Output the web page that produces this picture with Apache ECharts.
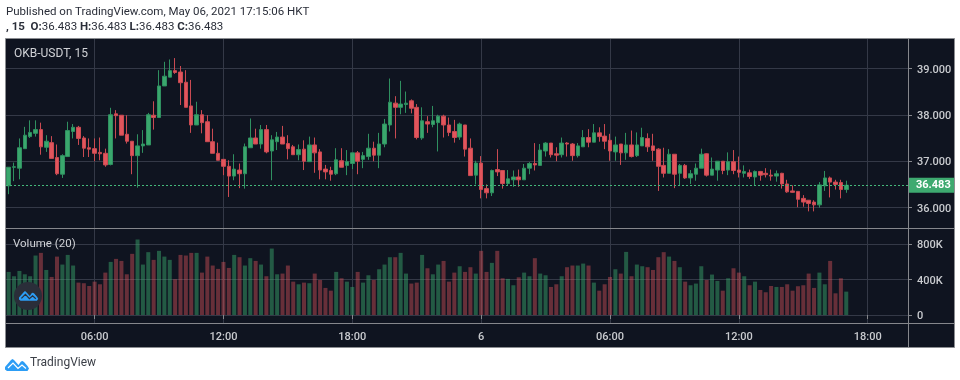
<!DOCTYPE html>
<html>
<head>
<meta charset="utf-8">
<title>OKB-USDT</title>
<script src="https://cdn.jsdelivr.net/npm/echarts@6/dist/echarts.min.js"></script>
<style>
  html, body { margin: 0; padding: 0; background: #fff; }
  #main { width: 960px; height: 380px; }
</style>
</head>
<body>
<div id="main"></div>
<script>
// 15 minute bars. first bar is 02:00 on the 5th
var open = [
  36.47, 36.87, 36.85, 37.27, 37.53, 37.6, 37.68, 37.3, 37.4, 37.08,
  36.72, 37.1, 37.64, 37.73, 37.5, 37.29, 37.27, 37.19, 37.17, 36.93,
  38.02, 37.99, 37.58, 37.43, 37.12, 37.33, 37.35, 37.99, 37.94, 38.62,
  38.81, 38.95, 38.92, 38.7, 38.19, 37.78, 38.0, 37.85, 37.42, 37.17,
  37.04, 36.89, 36.68, 36.81, 36.73, 37.29, 37.5, 37.37, 37.68, 37.22,
  37.42, 37.52, 37.38, 37.31, 37.14, 37.26, 36.99, 37.35, 37.2, 36.83,
  36.8, 36.73, 37.01, 36.91, 36.95, 37.18, 37.04, 37.1, 37.28, 37.13,
  37.37, 37.78, 38.25, 38.16, 38.22, 38.3, 38.16, 37.5, 37.85, 37.79,
  37.83, 37.97, 37.78, 37.64, 37.52, 37.78, 37.28, 36.7, 36.96, 36.41,
  36.32, 36.82, 36.8, 36.52, 36.6, 36.66, 36.6, 36.85, 36.95, 36.91,
  37.22, 37.39, 37.16, 37.14, 37.39, 37.37, 37.12, 37.31, 37.51, 37.41,
  37.61, 37.54, 37.45, 37.2, 37.37, 37.18, 37.35, 37.12, 37.33, 37.49,
  37.33, 37.26, 36.91, 36.74, 37.15, 36.74, 36.91, 36.64, 36.72, 36.85,
  37.16, 36.7, 36.81, 37.0, 36.81, 36.99, 36.81, 36.74, 36.75, 36.66,
  36.78, 36.74, 36.7, 36.68, 36.74, 36.51, 36.36, 36.35, 36.2, 36.16,
  36.12, 36.06, 36.47, 36.64, 36.55, 36.54, 36.39
];
var close = [
  36.87, 36.88, 37.29, 37.56, 37.62, 37.68, 37.31, 37.43, 37.06, 36.73,
  37.12, 37.66, 37.73, 37.49, 37.28, 37.26, 37.17, 37.16, 36.92, 38.0,
  37.98, 37.56, 37.43, 37.12, 37.33, 37.37, 38.0, 37.94, 38.62, 38.83,
  38.95, 38.91, 38.69, 38.16, 37.78, 38.0, 37.83, 37.42, 37.17, 37.02,
  36.89, 36.68, 36.83, 36.73, 37.31, 37.5, 37.37, 37.68, 37.2, 37.46,
  37.52, 37.37, 37.27, 37.14, 37.25, 37.0, 37.35, 37.18, 36.81, 36.77,
  36.72, 37.03, 36.87, 36.99, 37.18, 37.0, 37.12, 37.28, 37.13, 37.37,
  37.8, 38.27, 38.16, 38.23, 38.25, 38.14, 37.51, 37.87, 37.8, 37.87,
  37.97, 37.78, 37.62, 37.51, 37.8, 37.26, 36.69, 36.96, 36.39, 36.32,
  36.8, 36.77, 36.52, 36.62, 36.66, 36.6, 36.85, 36.95, 36.92, 37.24,
  37.39, 37.14, 37.13, 37.39, 37.37, 37.12, 37.33, 37.51, 37.41, 37.61,
  37.53, 37.43, 37.22, 37.35, 37.18, 37.35, 37.1, 37.35, 37.51, 37.31,
  37.23, 36.89, 36.74, 37.15, 36.72, 36.91, 36.64, 36.73, 36.85, 37.15,
  36.7, 36.83, 37.0, 36.8, 36.99, 36.8, 36.76, 36.78, 36.67, 36.78,
  36.7, 36.71, 36.68, 36.73, 36.51, 36.34, 36.33, 36.18, 36.12, 36.09,
  36.06, 36.49, 36.64, 36.55, 36.5, 36.39, 36.483
];
var low = [
  36.29, 36.57, 36.61, 37.27, 37.5, 37.53, 37.14, 37.2, 37.06, 36.7,
  36.64, 37.1, 37.49, 37.35, 37.09, 37.09, 37.0, 37.02, 36.88, 36.91,
  37.49, 37.56, 37.38, 36.72, 36.43, 37.18, 37.35, 37.68, 37.94, 38.62,
  38.81, 38.88, 38.21, 38.16, 37.61, 37.78, 37.6, 37.42, 37.17, 37.02,
  36.7, 36.23, 36.59, 36.42, 36.41, 37.29, 37.37, 37.27, 37.17, 36.59,
  37.24, 37.37, 37.04, 37.14, 37.02, 36.81, 36.99, 36.75, 36.61, 36.61,
  36.58, 36.7, 36.87, 36.7, 36.83, 36.72, 36.85, 37.03, 37.0, 36.85,
  37.3, 37.64, 37.49, 38.01, 38.04, 38.03, 37.47, 37.46, 37.61, 37.73,
  37.21, 37.51, 37.54, 37.4, 37.46, 37.1, 36.69, 36.5, 36.2, 36.2,
  36.25, 36.68, 36.41, 36.47, 36.45, 36.45, 36.6, 36.72, 36.8, 36.91,
  37.1, 37.08, 37.0, 37.08, 37.1, 37.01, 37.08, 37.31, 37.3, 37.41,
  37.42, 37.26, 37.01, 37.01, 36.92, 37.03, 37.08, 37.09, 37.33, 37.2,
  37.01, 36.36, 36.65, 36.74, 36.42, 36.48, 36.62, 36.51, 36.58, 36.85,
  36.67, 36.7, 36.58, 36.72, 36.7, 36.72, 36.65, 36.65, 36.62, 36.48,
  36.58, 36.65, 36.58, 36.56, 36.41, 36.32, 36.32, 36.01, 36.02, 35.92,
  35.92, 36.0, 36.36, 36.22, 36.39, 36.2, 36.32
];
var high = [
  36.87, 36.97, 37.49, 37.74, 37.88, 37.88, 37.83, 37.56, 37.54, 37.36,
  37.15, 37.85, 37.8, 37.76, 37.54, 37.49, 37.49, 37.51, 37.27, 38.15,
  38.1, 37.99, 37.99, 37.43, 37.58, 37.67, 38.04, 38.29, 38.96, 39.14,
  39.19, 39.22, 39.05, 38.96, 38.75, 38.28, 38.1, 37.99, 37.7, 37.4,
  37.04, 37.02, 37.15, 36.95, 37.38, 37.92, 37.7, 37.78, 37.78, 37.56,
  37.63, 37.76, 37.56, 37.35, 37.36, 37.45, 37.53, 37.51, 37.26, 36.92,
  36.88, 37.28, 37.28, 37.24, 37.18, 37.22, 37.2, 37.59, 37.42, 37.61,
  37.91, 38.78, 38.4, 38.73, 38.5, 38.33, 38.23, 38.16, 37.97, 38.19,
  38.0, 38.0, 37.94, 37.89, 37.83, 37.78, 37.49, 37.01, 37.11, 36.5,
  36.82, 37.26, 36.81, 36.81, 36.8, 36.82, 36.94, 36.98, 37.39, 37.37,
  37.41, 37.39, 37.3, 37.51, 37.41, 37.39, 37.39, 37.67, 37.69, 37.8,
  37.73, 37.8, 37.59, 37.53, 37.37, 37.61, 37.66, 37.62, 37.72, 37.6,
  37.59, 37.28, 37.29, 37.26, 37.15, 36.94, 36.94, 36.81, 36.95, 37.27,
  37.17, 37.08, 37.0, 37.0, 37.19, 37.24, 37.1, 36.91, 36.82, 36.8,
  36.79, 36.85, 36.82, 36.8, 36.75, 36.6, 36.48, 36.35, 36.27, 36.16,
  36.16, 36.55, 36.79, 36.67, 36.6, 36.6, 36.58
];
var volume = [
  487, 438, 498, 460, 438, 672, 702, 509, 430, 660,
  570, 679, 559, 366, 359, 328, 377, 347, 479, 600,
  634, 611, 460, 691, 853, 570, 710, 623, 725, 660,
  623, 404, 679, 672, 702, 702, 479, 660, 559, 521,
  600, 532, 679, 653, 559, 642, 611, 570, 438, 751,
  460, 468, 559, 377, 347, 366, 359, 468, 396, 306,
  275, 487, 415, 377, 317, 487, 366, 449, 396, 517,
  570, 653, 653, 702, 468, 355, 366, 679, 528, 460,
  570, 611, 377, 479, 551, 487, 540, 468, 725, 487,
  589, 725, 415, 408, 336, 426, 479, 438, 642, 468,
  449, 317, 347, 438, 540, 559, 559, 581, 559, 366,
  275, 347, 430, 517, 468, 713, 438, 570, 551, 540,
  509, 653, 710, 660, 611, 540, 377, 336, 355, 551,
  396, 457, 385, 275, 415, 528, 479, 438, 336, 377,
  283, 257, 328, 317, 317, 347, 275, 325, 336, 468,
  306, 479, 347, 611, 245, 415, 264
];
var priceTicks = [36, 37, 38, 39];
var volumeTicks = [0, 400000, 800000];

var upColor = '#3aa76d';
var downColor = '#e2555c';

// 168 slots, 11 of them stay empty on the right
var times = [];
for (var s = 0; s < 168; s++) {
  var mins = 120 + s * 15;
  var h = Math.floor(mins / 60) % 24;
  var m = mins % 60;
  times.push((h < 10 ? '0' : '') + h + ':' + (m < 10 ? '0' : '') + m);
}

var candles = open.map(function (o, i) {
  return [o, close[i], low[i], high[i]];
});
var volumeBars = volume.map(function (v, i) {
  return {
    value: v * 1000,
    itemStyle: { color: close[i] >= open[i] ? 'rgba(58,167,109,0.48)' : 'rgba(226,85,92,0.42)' }
  };
});
var lastClose = close[close.length - 1];

function onTimeMark (idx) {
  return idx % 24 === 16;
}
function timeLabel (val) {
  return val === '00:00' ? '6' : val;
}

var gridColor = '#343947';
var labelColor = '#c9cbcf';
var lineColor = '#85878c';
var labelFont = 'Roboto';
var textFont = 'Roboto';

// logo outline on a 24x14 box
function scalePts (pts, x, y, k) {
  return pts.map(function (p) { return [x + p[0] * k, y + p[1] * k]; });
}
var cloudPts = [[0, 10], [6, 3], [7.5, 2], [9, 3], [13.5, 8], [16, 4.5], [17.5, 4], [19, 5], [22.5, 9], [24, 11.5], [22.5, 14], [2, 14], [0, 12.5]];
var zigPts = [[3, 11], [8, 6], [13, 11.5], [17, 8], [21, 11.5]];

var chart = echarts.init(document.getElementById('main'));
chart.setOption({
  backgroundColor: '#fff',
  animation: false,
  graphic: [
    { type: 'rect', z: -10, silent: true, shape: { x: 5.5, y: 38.5, width: 949, height: 309 }, style: { fill: '#0f1420', stroke: '#8b8d91', lineWidth: 1 } },
    { type: 'line', z: 10, shape: { x1: 6, y1: 228.5, x2: 954, y2: 228.5 }, style: { stroke: lineColor, lineWidth: 1 } },
    { type: 'line', z: 10, shape: { x1: 6, y1: 323.5, x2: 954, y2: 323.5 }, style: { stroke: lineColor, lineWidth: 1 } },
    { type: 'line', z: 10, shape: { x1: 908.5, y1: 39, x2: 908.5, y2: 347 }, style: { stroke: lineColor, lineWidth: 1 } },
    { type: 'text', z: 10, x: 6, y: 6, style: { text: 'Published on TradingView.com, May 06, 2021 17:15:06 HKT', font: '11.5px ' + textFont, fill: '#2a2e39' } },
    { type: 'text', z: 10, x: 6, y: 21, style: {
      text: '{b|, 15  O:}36.483 {b|H:}36.483 {b|L:}36.483 {b|C:}36.483',
      font: '11.5px ' + textFont,
      fill: '#2a2e39',
      rich: { b: { font: 'bold 11.5px ' + textFont, fill: '#2a2e39' } }
    } },
    { type: 'text', z: 10, x: 14, y: 48, style: { text: 'OKB-USDT, 15', font: '12px ' + textFont, fill: '#d0d2d6' } },
    { type: 'text', z: 10, x: 13, y: 238, style: { text: 'Volume (20)', font: '11.5px ' + textFont, fill: '#d0d2d6' } },
    { type: 'circle', z: 10, shape: { cx: 28, cy: 296, r: 14 }, style: { fill: '#2a2e39' } },
    { type: 'polygon', z: 11, shape: { points: scalePts(cloudPts, 19, 289.5, 0.8) }, style: { fill: '#2c9df5' } },
    { type: 'polyline', z: 12, shape: { points: scalePts(zigPts, 19, 289.5, 0.8) }, style: { fill: 'none', stroke: '#2a2e39', lineWidth: 1.2 } },
    { type: 'polygon', z: 10, shape: { points: scalePts(cloudPts, 5, 357, 1) }, style: { fill: '#2c9df5' } },
    { type: 'polyline', z: 11, shape: { points: scalePts(zigPts, 5, 357, 1) }, style: { fill: 'none', stroke: '#fff', lineWidth: 1.2 } },
    { type: 'text', z: 10, x: 30, y: 357, style: { text: 'TradingView', font: '12px ' + textFont, fill: '#3c4048' } }
  ],
  grid: [
    { left: 6, width: 902, top: 39, height: 189 },
    { left: 6, width: 902, top: 229, height: 94 }
  ],
  xAxis: [
    {
      type: 'category',
      gridIndex: 0,
      data: times,
      axisLine: { show: false },
      axisTick: { show: false },
      axisLabel: { show: false },
      splitLine: { show: true, interval: onTimeMark, alignWithLabel: true, lineStyle: { color: gridColor, width: 1 } }
    },
    {
      type: 'category',
      gridIndex: 1,
      data: times,
      axisLine: { show: false },
      axisTick: { show: true, interval: onTimeMark, alignWithLabel: true, length: 4, lineStyle: { color: lineColor } },
      axisLabel: { interval: onTimeMark, formatter: timeLabel, color: labelColor, fontFamily: labelFont, fontSize: 11, fontWeight: 500, margin: 9 },
      splitLine: { show: true, interval: onTimeMark, alignWithLabel: true, lineStyle: { color: gridColor, width: 1 } }
    }
  ],
  yAxis: [
    {
      type: 'value',
      gridIndex: 0,
      position: 'right',
      min: 35.562,
      max: 39.631,
      axisLine: { show: false },
      axisTick: { show: true, customValues: priceTicks, length: 4, lineStyle: { color: lineColor } },
      axisLabel: {
        customValues: priceTicks,
        formatter: function (v) { return v.toFixed(3); },
        color: labelColor, fontFamily: labelFont, fontSize: 11, fontWeight: 500, margin: 9,
        verticalAlign: 'top',
        lineHeight: 3
      },
      splitLine: { show: true, lineStyle: { color: gridColor, width: 1 } }
    },
    {
      type: 'value',
      gridIndex: 1,
      position: 'right',
      min: -90400,
      max: 971800,
      axisLine: { show: false },
      axisTick: { show: true, customValues: volumeTicks, length: 4, lineStyle: { color: lineColor } },
      axisLabel: {
        customValues: volumeTicks,
        formatter: function (v) { return v === 0 ? '0' : (v / 1000) + 'K'; },
        color: labelColor, fontFamily: labelFont, fontSize: 11, fontWeight: 500, margin: 9,
        verticalAlign: 'top',
        lineHeight: 3
      },
      splitLine: { show: true, lineStyle: { color: gridColor, width: 1 } }
    }
  ],
  series: [
    {
      type: 'candlestick',
      xAxisIndex: 0,
      yAxisIndex: 0,
      data: candles,
      barWidth: 4,
      itemStyle: {
        color: upColor,
        color0: downColor,
        borderColor: '#2f9060',
        borderColor0: '#c94a52',
        borderWidth: 1
      },
      markLine: {
        silent: true,
        symbol: 'none',
        animation: false,
        data: [{ yAxis: lastClose }],
        lineStyle: { color: '#44b87a', type: [2, 2], width: 1, opacity: 1 },
        label: {
          position: 'end',
          distance: 0,
          formatter: lastClose.toFixed(3),
          color: '#fff',
          backgroundColor: '#3eaa70',
          fontFamily: labelFont,
          fontSize: 11,
          fontWeight: 'bold',
          align: 'left',
          width: 38,
          height: 15,
          lineHeight: 15,
          padding: [0, 0, 0, 8]
        }
      }
    },
    {
      type: 'bar',
      xAxisIndex: 1,
      yAxisIndex: 1,
      data: volumeBars,
      barWidth: 4
    }
  ]
});
</script>
</body>
</html>
